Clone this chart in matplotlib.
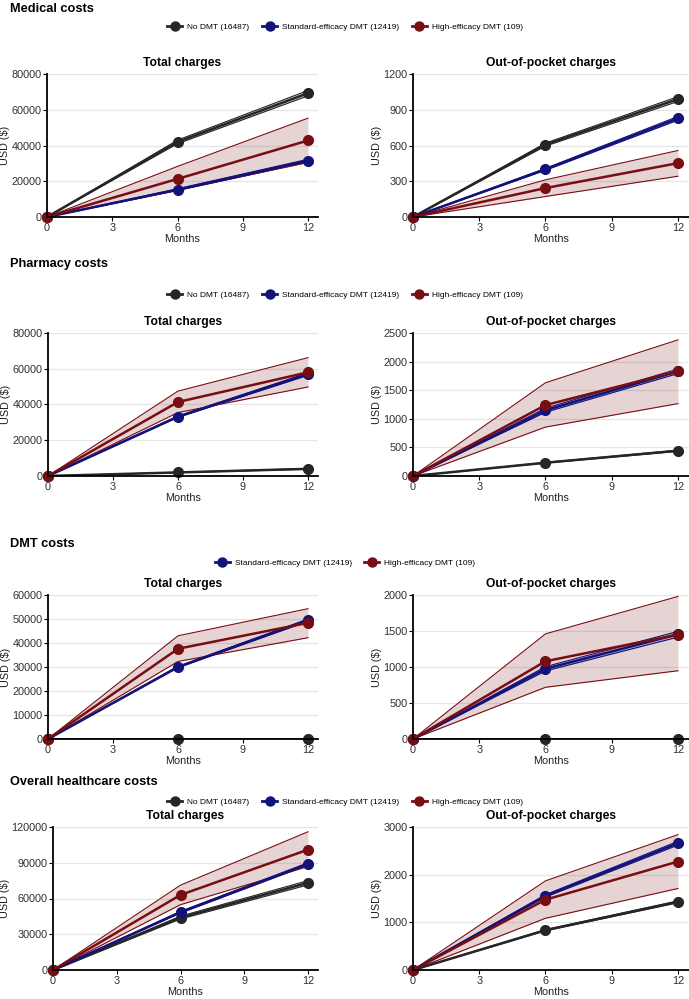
import matplotlib.pyplot as plt
from matplotlib.lines import Line2D
import numpy as np

plt.rcParams['font.family'] = ['Liberation Sans', 'DejaVu Sans']

months = [0, 6, 12]
groups = ['No DMT (16487)', 'Standard-efficacy DMT (12419)', 'High-efficacy DMT (109)']
colors = ['#262626', '#12127a', '#780d12']

# each entry: mean, lower, upper for No DMT / Standard / High
med_total = {
    'no': ([0, 42000, 69300], [0, 41000, 67800], [0, 43000, 70800]),
    'std': ([0, 15300, 31500], [0, 14800, 30700], [0, 15800, 32300]),
    'high': ([0, 21300, 42800], [0, 15000, 30500], [0, 28300, 55300]),
}
med_oop = {
    'no': ([0, 608, 990], [0, 595, 970], [0, 620, 1010]),
    'std': ([0, 400, 828], [0, 392, 812], [0, 408, 844]),
    'high': ([0, 243, 452], [0, 172, 342], [0, 312, 558]),
}
pha_total = {
    'no': ([0, 2000, 4000], [0, 1900, 3800], [0, 2100, 4200]),
    'std': ([0, 33200, 57000], [0, 32800, 56300], [0, 33600, 57700]),
    'high': ([0, 41400, 58000], [0, 35500, 49800], [0, 47500, 66200]),
}
pha_oop = {
    'no': ([0, 232, 442], [0, 226, 432], [0, 238, 452]),
    'std': ([0, 1150, 1830], [0, 1115, 1790], [0, 1185, 1870]),
    'high': ([0, 1240, 1830], [0, 855, 1265], [0, 1630, 2380]),
}
dmt_total = {
    'no': ([0, 0, 0], [0, 0, 0], [0, 0, 0]),
    'std': ([0, 30000, 49500], [0, 29700, 49000], [0, 30300, 50000]),
    'high': ([0, 37600, 48400], [0, 32300, 42200], [0, 43000, 54300]),
}
dmt_oop = {
    'no': ([0, 0, 0], [0, 0, 0], [0, 0, 0]),
    'std': ([0, 975, 1455], [0, 945, 1415], [0, 1005, 1495]),
    'high': ([0, 1080, 1450], [0, 718, 948], [0, 1460, 1980]),
}
all_total = {
    'no': ([0, 44000, 73200], [0, 42800, 71400], [0, 45200, 75000]),
    'std': ([0, 48500, 89000], [0, 47800, 88000], [0, 49200, 90000]),
    'high': ([0, 63000, 101000], [0, 54800, 86800], [0, 71200, 116000]),
}
all_oop = {
    'no': ([0, 835, 1430], [0, 822, 1410], [0, 848, 1450]),
    'std': ([0, 1555, 2660], [0, 1530, 2620], [0, 1580, 2700]),
    'high': ([0, 1475, 2275], [0, 1085, 1710], [0, 1870, 2840]),
}

sections = ['Medical costs', 'Pharmacy costs', 'DMT costs', 'Overall healthcare costs']
panels = [(med_total, med_oop), (pha_total, pha_oop), (dmt_total, dmt_oop), (all_total, all_oop)]
yticks = [
    (np.arange(0, 80001, 20000), np.arange(0, 1201, 300)),
    (np.arange(0, 80001, 20000), np.arange(0, 2501, 500)),
    (np.arange(0, 60001, 10000), np.arange(0, 2001, 500)),
    (np.arange(0, 120001, 30000), np.arange(0, 3001, 1000)),
]

W, H = 689, 999
fig = plt.figure(figsize=(W / 100, H / 100), dpi=100)

# pixel layout
tops = [74, 333, 595, 827]
bottoms = [217, 476, 739, 970]
sec_y = [9, 264, 544, 782]
leg_y = [27, 295, 563, 802]
left_x0 = [47, 48, 48, 53]


def px_axes(x0, y0, x1, y1):
    return fig.add_axes([x0 / W, 1 - y1 / H, (x1 - x0) / W, (y1 - y0) / H])


def draw_panel(ax, data, ticks, title, xmax):
    keys = ['no', 'std', 'high']
    for k, c in zip(keys, colors):
        mean, lo, hi = data[k]
        ax.fill_between(months, lo, hi, color=c, alpha=0.18, lw=0, zorder=2)
        ax.plot(months, lo, color=c, lw=0.8, zorder=3)
        ax.plot(months, hi, color=c, lw=0.8, zorder=3)
    for k, c in zip(keys, colors):
        ax.plot(months, data[k][0], color=c, lw=1.8, zorder=4)
    for k, c in zip(keys, colors):
        ax.plot(months, data[k][0], 'o', color=c, ms=7, zorder=5, clip_on=False)
    ax.set_xlim(0, xmax)
    ax.set_ylim(0, ticks[-1])
    ax.set_xticks([0, 3, 6, 9, 12])
    ax.set_yticks(ticks)
    ax.grid(axis='y', color='#e6e6e6', lw=0.9)
    ax.set_axisbelow(True)
    for s in ['top', 'right']:
        ax.spines[s].set_visible(False)
    for s in ['left', 'bottom']:
        ax.spines[s].set_linewidth(1.3)
        ax.spines[s].set_zorder(6)
    ax.tick_params(labelsize=7.8, labelcolor='#303030', length=3, width=0.8, pad=1)
    ax.set_xlabel('Months', fontsize=7.8, labelpad=1, color='#202020')
    ax.set_ylabel('USD ($)', fontsize=7.8, labelpad=1, color='#202020')
    ax.set_title(title, fontsize=8.7, fontweight='bold', pad=6)


for i in range(4):
    fig.text(10 / W, 1 - sec_y[i] / H, sections[i], fontsize=9.2, fontweight='bold',
             va='center', ha='left')
    axl = px_axes(left_x0[i], tops[i], 318, bottoms[i])
    xmax_l = 12 * (318 - left_x0[i]) / (308 - left_x0[i])
    draw_panel(axl, panels[i][0], yticks[i][0], 'Total charges', xmax_l)
    axr = px_axes(413, tops[i], 689, bottoms[i])
    draw_panel(axr, panels[i][1], yticks[i][1], 'Out-of-pocket charges', 12.5)

    idx = [1, 2] if i == 2 else [0, 1, 2]
    handles = [Line2D([], [], color=colors[j], lw=2, marker='o', ms=6.5) for j in idx]
    fig.legend(handles, [groups[j] for j in idx], loc='center',
               bbox_to_anchor=(345 / W, 1 - leg_y[i] / H), ncol=len(idx), frameon=False,
               fontsize=6, handlelength=1.8, handletextpad=0.6, columnspacing=1.5)

fig.savefig('out.png', dpi=100)
